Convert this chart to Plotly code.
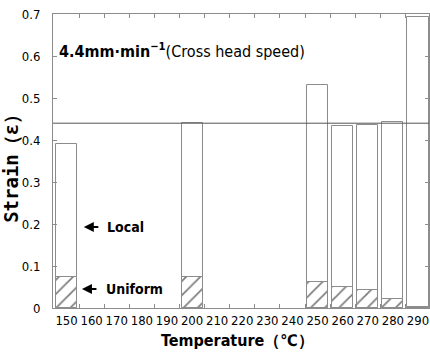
import plotly.graph_objects as go

temps = [150, 200, 250, 260, 270, 280, 290]
total_strain = [0.39, 0.44, 0.53, 0.433, 0.435, 0.444, 0.694]
uniform_strain = [0.075, 0.075, 0.063, 0.049, 0.044, 0.021, 0.002]
tick_temps = list(range(150, 300, 10))
ref_strain = 0.44

NARROW = "DejaVu Sans Condensed, Liberation Sans Narrow, Liberation Sans, sans-serif"

fig = go.Figure()
fig.add_trace(go.Bar(
    x=temps, y=total_strain, width=8.4,
    marker=dict(color="white", line=dict(color="#8c8c8c", width=1)),
    showlegend=False,
))
fig.add_trace(go.Bar(
    x=temps, y=uniform_strain, width=8.4,
    marker=dict(color="white", line=dict(color="#8c8c8c", width=1),
                pattern=dict(shape="/", fgcolor="black", bgcolor="white",
                             size=10, solidity=0.18)),
    showlegend=False,
))
fig.add_trace(go.Scatter(x=[150], y=[0], xaxis="x2", mode="markers",
                         marker=dict(opacity=0), showlegend=False, hoverinfo="skip"))

fig.add_shape(type="line", xref="paper", x0=0, x1=1, yref="y", y0=ref_strain, y1=ref_strain,
              line=dict(color="#555555", width=1))

xr = [144.6, 294.4]
fig.update_layout(
    width=430, height=357,
    margin=dict(l=53, r=1, t=14, b=49),
    plot_bgcolor="white", paper_bgcolor="white",
    barmode="overlay", bargap=0,
    xaxis=dict(range=xr, tickvals=tick_temps, ticktext=[str(t) for t in tick_temps],
               ticks="", showline=True, linecolor="#8c8c8c", mirror=True, showgrid=False,
               zeroline=False, tickfont=dict(family=NARROW, size=13, color="black")),
    xaxis2=dict(range=xr, overlaying="x", tickvals=[t - 5 for t in tick_temps] + [295],
                showticklabels=False, ticks="inside", ticklen=4, tickcolor="#8c8c8c",
                mirror="ticks", showline=False, showgrid=False, zeroline=False,
                side="bottom"),
    yaxis=dict(range=[0, 0.7], ticks="inside", ticklen=4, tickcolor="#8c8c8c",
               showline=True, linecolor="#8c8c8c", mirror="ticks", showgrid=False,
               zeroline=False, ticklabelstandoff=9,
               tickvals=[0, 0.1, 0.2, 0.3, 0.4, 0.5, 0.6, 0.7],
               ticktext=["0", "0.1", "0.2", "0.3", "0.4", "0.5", "0.6", "0.7"],
               tickfont=dict(family=NARROW, size=13, color="black")),
)

fig.add_annotation(xref="paper", yref="paper", x=0.01, y=0.875, xanchor="left", yanchor="middle",
                   text="<b>4.4mm·min</b><sup><b>−1</b></sup>(Cross head speed)", showarrow=False,
                   font=dict(family=NARROW, size=16, color="black"))
# arrows
fig.add_annotation(xref="paper", yref="paper", x=0.082, y=0.2755, ax=16, ay=0, text="",
                   showarrow=True, arrowhead=2, arrowsize=1, arrowwidth=2, arrowcolor="black")
fig.add_annotation(xref="paper", yref="paper", x=0.077, y=0.0646, ax=16, ay=0, text="",
                   showarrow=True, arrowhead=2, arrowsize=1, arrowwidth=2, arrowcolor="black")
fig.add_annotation(xref="paper", yref="paper", x=0.138, y=0.2755, xanchor="left", yanchor="middle",
                   text="<b>Local</b>", showarrow=False,
                   font=dict(family=NARROW, size=14, color="black"))
fig.add_annotation(xref="paper", yref="paper", x=0.136, y=0.0646, xanchor="left", yanchor="middle",
                   text="<b>Uniform</b>", showarrow=False,
                   font=dict(family=NARROW, size=14, color="black"))
fig.add_annotation(xref="paper", yref="paper", x=0.49, y=-0.11, xanchor="center", yanchor="middle",
                   text="<b>Temperature（℃）</b>", showarrow=False,
                   font=dict(family=NARROW, size=16, color="black"))
fig.add_annotation(xref="paper", yref="paper", x=-0.112, y=0.49, xanchor="center", yanchor="middle",
                   text="<b>Strain（ε）</b>", textangle=-90, showarrow=False,
                   font=dict(family="DejaVu Sans Mono, monospace", size=19, color="black"))

fig.write_html("out.html")
